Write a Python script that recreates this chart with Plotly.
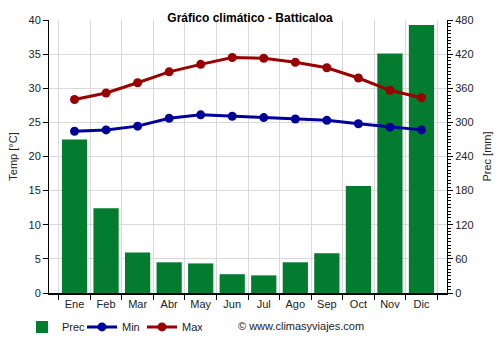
import plotly.graph_objects as go

months = ["Ene", "Feb", "Mar", "Abr", "May", "Jun", "Jul", "Ago", "Sep", "Oct", "Nov", "Dic"]
prec = [270, 149, 71, 54, 52, 33, 31, 54, 70, 188, 421, 471]
t_min = [23.7, 23.9, 24.45, 25.6, 26.1, 25.9, 25.7, 25.5, 25.3, 24.8, 24.3, 23.9]
t_max = [28.35, 29.3, 30.8, 32.4, 33.5, 34.5, 34.4, 33.8, 33.0, 31.5, 29.7, 28.6]

GREEN = "#037c2f"
BLUE = "#000099"
RED = "#990000"
FONT = "Liberation Sans, Arial, sans-serif"

fig = go.Figure()

# Precipitation bars on the primary (right-hand) axis so temperature lines sit above them
fig.add_trace(go.Bar(
    x=months, y=prec, name="Prec", marker=dict(color=GREEN, line=dict(width=0)),
    yaxis="y",
))
fig.add_trace(go.Scatter(
    x=months, y=t_min, name="Min", mode="lines+markers",
    line=dict(color=BLUE, width=3), marker=dict(color=BLUE, size=9),
    yaxis="y2",
))
fig.add_trace(go.Scatter(
    x=months, y=t_max, name="Max", mode="lines+markers",
    line=dict(color=RED, width=3), marker=dict(color=RED, size=9),
    yaxis="y2",
))

fig.update_layout(
    width=500, height=350,
    margin=dict(l=49, r=53, t=20, b=57, autoexpand=False),
    paper_bgcolor="white", plot_bgcolor="white",
    font=dict(family=FONT, size=11, color="#222222"),
    bargap=0.2,
    title=dict(text="<b>Gráfico climático - Batticaloa</b>", x=0.5, xanchor="center",
               y=0.95, yanchor="middle", font=dict(size=12, color="#000000")),
    xaxis=dict(
        type="category", tickson="boundaries", ticks="outside", ticklen=5,
        tickcolor="#000000", showgrid=True, gridcolor="#d9d9d9", gridwidth=1,
        showline=True, linecolor="#000000", linewidth=2, automargin=False,
        tickfont=dict(size=11, color="#222222"),
    ),
    yaxis=dict(
        side="right", range=[0, 480], dtick=60, ticks="outside", ticklen=5,
        tickcolor="#000000", showline=True, linecolor="#000000", linewidth=1,
        showgrid=True, gridcolor="#d9d9d9", gridwidth=1, zeroline=False,
        automargin=False,
        minor=dict(dtick=6, ticks="outside", ticklen=3, tickcolor="#000000", showgrid=False),
        title=dict(text="Prec [mm]", font=dict(size=11), standoff=10),
        tickfont=dict(size=11, color="#222222"),
    ),
    yaxis2=dict(
        overlaying="y", side="left", range=[0, 40], dtick=5, ticks="outside", ticklen=5,
        tickcolor="#000000", showline=True, linecolor="#000000", linewidth=1,
        showgrid=False, zeroline=False, automargin=False,
        title=dict(text="Temp [°C]", font=dict(size=11), standoff=8),
        tickfont=dict(size=11, color="#222222"),
    ),
    legend=dict(
        orientation="h", x=0.044, xanchor="left", xref="container",
        y=0.066, yanchor="middle", yref="container",
        font=dict(size=11, color="#222222"), itemwidth=30, tracegroupgap=0,
        entrywidth=15, entrywidthmode="pixels",
        traceorder="normal",
    ),
    showlegend=True,
    annotations=[dict(
        text="© www.climasyviajes.com", xref="paper", yref="paper",
        x=(236 - 49) / 398, y=-33 / 273, xanchor="left", yanchor="middle", showarrow=False,
        font=dict(size=11, color="#222222"),
    )],
)

fig.write_html("out.html")
